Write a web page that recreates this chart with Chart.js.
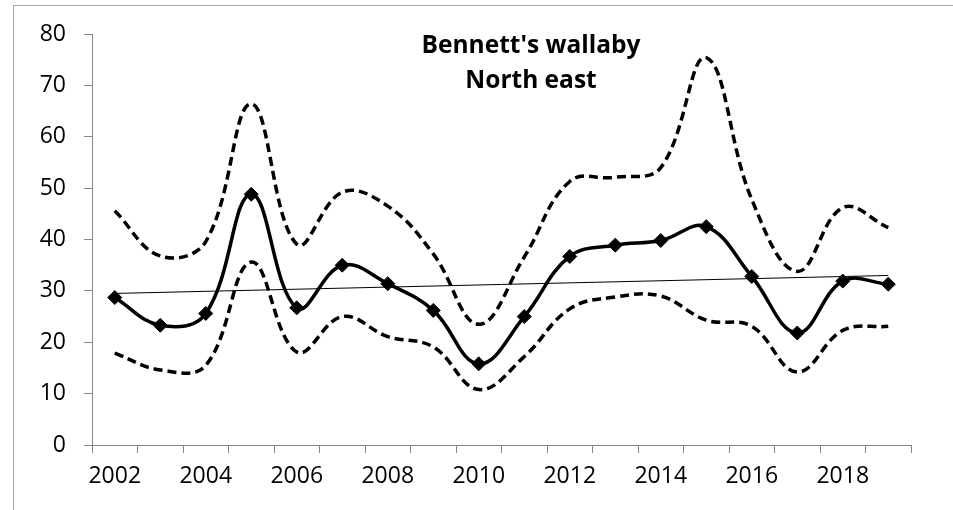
<!DOCTYPE html>
<html>
<head>
<meta charset="utf-8">
<script src="https://cdn.jsdelivr.net/npm/chart.js@4.4.0/dist/chart.umd.min.js"></script>
<style>
  html, body { margin: 0; padding: 0; background: #fff; }
  #wrap { position: relative; width: 953px; height: 510px; }
  #frame { position: absolute; left: 13px; top: 5px; right: -2px; bottom: -2px;
           border-left: 1px solid #a6a6a6; border-top: 1px solid #a6a6a6; }
  canvas { position: absolute; left: 0; top: 0; }
</style>
</head>
<body>
<div id="wrap">
  <div id="frame"></div>
  <canvas id="chart" width="953" height="510"></canvas>
</div>
<script>
// categories (one per survey year)
const years = ['2002', '2003', '2004', '2005', '2006', '2007', '2008', '2009', '2010',
               '2011', '2012', '2013', '2014', '2015', '2016', '2017', '2018', '2019'];

// population index
const estimate = [28.7, 23.3, 25.6, 48.8, 26.7, 35.0, 31.4, 26.2, 15.8,
                  25.0, 36.7, 38.9, 39.8, 42.5, 32.8, 21.8, 31.9, 31.3];
const upperBound = [45.6, 36.8, 39.6, 66.4, 39.1, 49.2, 46.5, 37.2, 23.5,
                    36.6, 51.3, 52.1, 54.0, 75.4, 47.8, 33.8, 46.2, 42.3];
const lowerBound = [17.9, 14.6, 15.5, 35.6, 18.1, 25.0, 21.1, 19.1, 10.8,
                    17.2, 26.5, 28.8, 29.0, 24.3, 23.1, 14.2, 22.3, 23.1];

// linear trend, ends only
const trendStart = 29.5;
const trendEnd = 33.0;

const yTicks = [0, 10, 20, 30, 40, 50, 60, 70, 80];
const titleLines = ["Bennett's wallaby", 'North east'];

const trend = years.map((y, i) => i === 0 ? trendStart : (i === years.length - 1 ? trendEnd : null));

const axisGrey = '#868686';
const tickFont = { family: 'Open Sans', size: 23 };

// title sits inside the plot, drawn after everything else
const titlePlugin = {
    id: 'insideTitle',
    afterDraw(chart) {
        const { ctx, chartArea } = chart;
        ctx.save();
        ctx.fillStyle = '#000';
        ctx.font = 'bold 24.5px "Open Sans"';
        ctx.textAlign = 'center';
        ctx.textBaseline = 'alphabetic';
        const cx = chartArea.left + 439;
        ctx.fillText(titleLines[0], cx, chartArea.top + 19);
        ctx.fillText(titleLines[1], cx, chartArea.top + 54);
        ctx.restore();
    }
};

new Chart(document.getElementById('chart').getContext('2d'), {
    type: 'line',
    data: {
        labels: years,
        datasets: [
            {
                label: 'Trend',
                data: trend,
                borderColor: '#000',
                borderWidth: 1,
                pointRadius: 0,
                spanGaps: true,
                tension: 0,
                order: 3
            },
            {
                label: 'Upper',
                data: upperBound,
                borderColor: '#000',
                borderWidth: 3.5,
                borderDash: [9, 5],
                pointRadius: 0,
                tension: 0.4,
                order: 2
            },
            {
                label: 'Lower',
                data: lowerBound,
                borderColor: '#000',
                borderWidth: 3.5,
                borderDash: [9, 5],
                pointRadius: 0,
                tension: 0.4,
                order: 2
            },
            {
                label: 'Estimate',
                data: estimate,
                borderColor: '#000',
                borderWidth: 3.5,
                tension: 0.4,
                pointStyle: 'rectRot',
                pointRadius: 7,
                pointBackgroundColor: '#000',
                pointBorderColor: '#000',
                pointBorderWidth: 1,
                order: 1
            }
        ]
    },
    options: {
        responsive: false,
        animation: false,
        layout: { padding: { left: 0, right: 42, top: 34, bottom: 0 } },
        plugins: {
            legend: { display: false },
            tooltip: { enabled: false },
            title: { display: false }
        },
        scales: {
            x: {
                type: 'category',
                offset: true,
                afterFit(scale) { scale.height = 65; },
                grid: {
                    offset: true,
                    drawOnChartArea: false,
                    tickLength: 8,
                    color: axisGrey
                },
                border: { color: axisGrey },
                ticks: {
                    autoSkip: false,
                    maxRotation: 0,
                    color: '#000',
                    font: tickFont,
                    padding: 10,
                    callback: (value, index) => index % 2 === 0 ? years[index] : ''
                }
            },
            y: {
                min: yTicks[0],
                max: yTicks[yTicks.length - 1],
                afterFit(scale) { scale.width = 92; },
                afterBuildTicks(scale) { scale.ticks = yTicks.map(v => ({ value: v })); },
                grid: {
                    drawOnChartArea: false,
                    tickLength: 8,
                    color: axisGrey
                },
                border: { color: axisGrey },
                ticks: {
                    color: '#000',
                    font: tickFont,
                    padding: 18
                }
            }
        }
    },
    plugins: [titlePlugin]
});
</script>
</body>
</html>
